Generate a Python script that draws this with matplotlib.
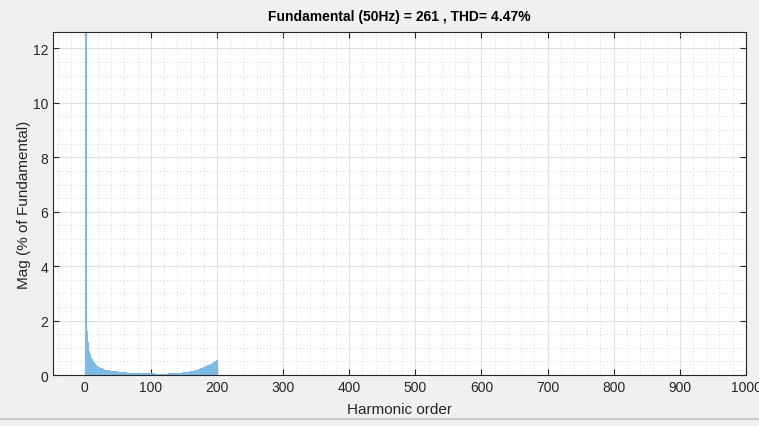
import matplotlib.pyplot as plt
from matplotlib.ticker import MultipleLocator
from matplotlib.lines import Line2D
import numpy as np

plt.rcParams['font.family'] = ['Liberation Sans', 'DejaVu Sans']

# harmonic spectrum, magnitude in % of fundamental (h0 = DC, h1 = fundamental)
harmonic_order = np.arange(0, 201)
mag_percent = [
    0.0, 100.0,
    3.1, 1.6, 1.2, 1.0, 0.88, 0.78, 0.7, 0.64, 0.59,
    0.54, 0.5, 0.46, 0.43, 0.4, 0.37, 0.35, 0.33, 0.31, 0.29,
    0.28, 0.27, 0.26, 0.25, 0.24, 0.23, 0.22, 0.22, 0.21, 0.2,
    0.2, 0.19, 0.19, 0.18, 0.18, 0.17, 0.17, 0.17, 0.16, 0.16,
    0.15, 0.15, 0.15, 0.14, 0.14, 0.14, 0.13, 0.13, 0.13, 0.12,
    0.12, 0.12, 0.12, 0.11, 0.11, 0.11, 0.11, 0.1, 0.1, 0.1,
    0.1, 0.1, 0.09, 0.09, 0.09, 0.09, 0.09, 0.09, 0.08, 0.08,
    0.08, 0.08, 0.08, 0.08, 0.08, 0.07, 0.07, 0.07, 0.07, 0.07,
    0.07, 0.07, 0.07, 0.07, 0.07, 0.06, 0.06, 0.06, 0.06, 0.06,
    0.06, 0.06, 0.06, 0.06, 0.06, 0.06, 0.06, 0.06, 0.06, 0.06,
    0.06, 0.06, 0.06, 0.06, 0.05, 0.05, 0.05, 0.05, 0.05, 0.05,
    0.05, 0.05, 0.05, 0.05, 0.05, 0.05, 0.05, 0.05, 0.05, 0.05,
    0.05, 0.05, 0.05, 0.05, 0.05, 0.06, 0.06, 0.06, 0.06, 0.06,
    0.06, 0.06, 0.06, 0.07, 0.07, 0.07, 0.07, 0.07, 0.08, 0.08,
    0.08, 0.08, 0.08, 0.09, 0.09, 0.09, 0.09, 0.1, 0.1, 0.1,
    0.1, 0.11, 0.11, 0.11, 0.12, 0.12, 0.12, 0.13, 0.13, 0.14,
    0.14, 0.15, 0.15, 0.16, 0.16, 0.17, 0.18, 0.18, 0.19, 0.2,
    0.2, 0.21, 0.22, 0.23, 0.24, 0.25, 0.26, 0.27, 0.28, 0.29,
    0.3, 0.31, 0.32, 0.33, 0.34, 0.35, 0.36, 0.37, 0.38, 0.4,
    0.41, 0.42, 0.44, 0.45, 0.47, 0.48, 0.5, 0.52, 0.54, 0.57,
]

fundamental_hz = 50
fundamental_mag = 261
thd = 4.47

fig = plt.figure(figsize=(7.59, 4.27), dpi=100, facecolor='#f0f0f0')
ax = fig.add_axes([0.0698, 0.1194, 0.913, 0.803])
ax.set_facecolor('white')

# edge line keeps the single bars at least ~1px wide
ax.bar(harmonic_order, mag_percent, width=0.8, color='#5aa8de',
       edgecolor='#7dbae6', linewidth=0.8)

ax.set_xlim(-48, 1000)
ax.set_ylim(0, 12.6)
ax.xaxis.set_major_locator(MultipleLocator(100))
ax.xaxis.set_minor_locator(MultipleLocator(20))
ax.yaxis.set_major_locator(MultipleLocator(2))
ax.yaxis.set_minor_locator(MultipleLocator(0.5))

ax.grid(which='major', color='#e0e0e0', linewidth=0.8)
ax.grid(which='minor', color='#c8c8c8', linewidth=0.6, linestyle=(0, (1, 3)))
ax.set_axisbelow(True)

ax.tick_params(which='both', direction='in', top=True, right=True,
               colors='#262626', labelsize=10, labelcolor='#262626')
ax.tick_params(which='major', length=4, width=0.8)
ax.tick_params(which='minor', length=0)
for s in ax.spines.values():
    s.set_color('#262626')
    s.set_linewidth(0.8)

ax.set_title('Fundamental ({}Hz) = {} , THD= {}%'.format(fundamental_hz, fundamental_mag, thd),
             fontsize=10, fontweight='bold', color='black', pad=9)
ax.set_xlabel('Harmonic order', fontsize=11, color='#262626', labelpad=6)
ax.set_ylabel('Mag (% of Fundamental)', fontsize=11, color='#262626', labelpad=1)

# thin frame line along the bottom of the window
fig.add_artist(Line2D([0, 1], [0.017, 0.017], transform=fig.transFigure,
                      color='#c8c8c8', linewidth=1.5))

fig.savefig('out.png', dpi=100, facecolor=fig.get_facecolor())
